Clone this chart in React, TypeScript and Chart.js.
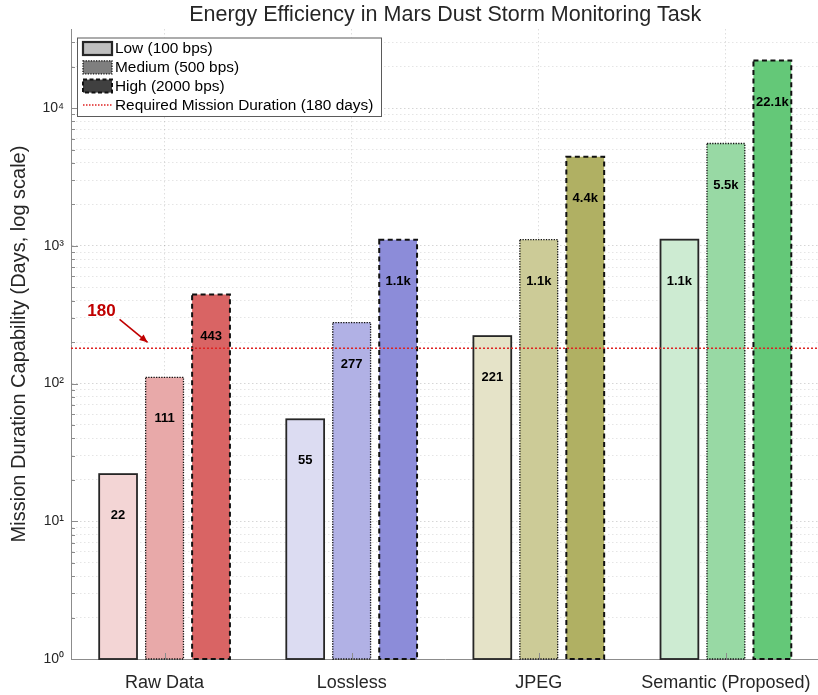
import { useEffect, useRef } from "react";
import { Chart, registerables } from "chart.js";

Chart.register(...registerables);

// ---- data ----
const categories = ["Raw Data", "Lossless", "JPEG", "Semantic (Proposed)"];
const seriesNames = ["Low (100 bps)", "Medium (500 bps)", "High (2000 bps)"];
const lowDays = [22, 55, 221, 1108];
const mediumDays = [111, 277, 1108, 5530];
const highDays = [443, 1108, 4430, 22120];
const requiredDays = 180;
const requiredLabel = "Required Mission Duration (180 days)";
const yMin = 1;
const yMax = 37500;
const decadeLabels = ["10⁰", "10¹", "10²", "10³", "10⁴"];

// ---- styles ----
const FONT = "'Liberation Sans', Arial, Helvetica, sans-serif";
const TEXT = "#262626";
const AXIS = "#8c8c8c";
const lowColors = ["#f3d5d5", "#dcdcf2", "#e5e3c8", "#cdebd2"];
const mediumColors = ["#e8a9a9", "#b1b1e5", "#cccb97", "#98d9a4"];
const highColors = ["#d96464", "#8c8cd9", "#b0b063", "#64c878"];
const outlineStyles = [
  { color: "#262626", width: 1.8, dash: [] as number[] },
  { color: "#111111", width: 1.3, dash: [1.3, 1.3] },
  { color: "#111111", width: 2, dash: [5, 3.5] },
];
const legendSwatches = [
  { fill: "#bfbfbf", ...outlineStyles[0], width: 2.2 },
  { fill: "#7f7f7f", ...outlineStyles[1] },
  { fill: "#404040", ...outlineStyles[2], dash: [4, 2.5] },
];
const THRESH_COLOR = "rgb(222, 34, 34)";
const NOTE_COLOR = "#c00000";

const formatDays = (v: number) =>
  v >= 1000 ? (v / 1000).toFixed(1) + "k" : String(v);

const isDecade = (v: number) => {
  const lg = Math.log10(v);
  return Math.abs(lg - Math.round(lg)) < 1e-9;
};

const overlayPlugin = {
  id: "overlay",
  afterDatasetsDraw(chart: any) {
    const { ctx, chartArea: a, scales } = chart;
    const x = scales.x;
    const y = scales.y;

    // bar outlines and value labels
    chart.data.datasets.forEach((ds: any, di: number) => {
      const meta = chart.getDatasetMeta(di);
      const st = outlineStyles[di];
      meta.data.forEach((bar: any, i: number) => {
        const p = bar.getProps(["x", "y", "base", "width"], true);
        ctx.save();
        ctx.strokeStyle = st.color;
        ctx.lineWidth = st.width;
        ctx.setLineDash(st.dash);
        ctx.strokeRect(p.x - p.width / 2, p.y, p.width, p.base - p.y);
        ctx.restore();

        const v = ds.data[i] as number;
        ctx.save();
        ctx.font = `bold 13px ${FONT}`;
        ctx.fillStyle = "#000";
        ctx.textAlign = "center";
        ctx.textBaseline = "middle";
        ctx.fillText(formatDays(v), p.x, y.getPixelForValue(v / 2));
        ctx.restore();
      });
    });

    // required duration line
    const ty = y.getPixelForValue(requiredDays);
    ctx.save();
    ctx.strokeStyle = THRESH_COLOR;
    ctx.lineWidth = 1.5;
    ctx.setLineDash([2, 2]);
    ctx.beginPath();
    ctx.moveTo(a.left, ty);
    ctx.lineTo(a.right, ty);
    ctx.stroke();
    ctx.restore();

    // "180" callout with arrow
    const cx = x.getPixelForValue(0);
    const tip = { x: cx - 17, y: ty - 6 };
    const tail = { x: cx - 45, y: ty - 29 };
    ctx.save();
    ctx.strokeStyle = NOTE_COLOR;
    ctx.fillStyle = NOTE_COLOR;
    ctx.lineWidth = 1.6;
    ctx.beginPath();
    ctx.moveTo(tail.x, tail.y);
    ctx.lineTo(tip.x, tip.y);
    ctx.stroke();
    const ang = Math.atan2(tip.y - tail.y, tip.x - tail.x);
    const hl = 8;
    const hw = 3.5;
    ctx.beginPath();
    ctx.moveTo(tip.x, tip.y);
    ctx.lineTo(
      tip.x - hl * Math.cos(ang) + hw * Math.sin(ang),
      tip.y - hl * Math.sin(ang) - hw * Math.cos(ang)
    );
    ctx.lineTo(
      tip.x - hl * Math.cos(ang) - hw * Math.sin(ang),
      tip.y - hl * Math.sin(ang) + hw * Math.cos(ang)
    );
    ctx.closePath();
    ctx.fill();
    ctx.font = `bold 17px ${FONT}`;
    ctx.textAlign = "center";
    ctx.textBaseline = "middle";
    ctx.fillText(String(requiredDays), cx - 63, ty - 37);
    ctx.restore();

    // inside tick marks
    ctx.save();
    ctx.strokeStyle = AXIS;
    ctx.lineWidth = 1;
    y.ticks.forEach((t: any) => {
      const py = Math.round(y.getPixelForValue(t.value)) + 0.5;
      const len = isDecade(t.value) ? 7 : 4;
      ctx.beginPath();
      ctx.moveTo(a.left, py);
      ctx.lineTo(a.left + len, py);
      ctx.stroke();
    });
    categories.forEach((_, i) => {
      const px = Math.round(x.getPixelForValue(i)) + 0.5;
      ctx.beginPath();
      ctx.moveTo(px, a.bottom);
      ctx.lineTo(px, a.bottom - 6);
      ctx.stroke();
    });
    ctx.restore();

    // legend
    const bx = a.left + 6;
    const by = a.top + 8.5;
    const bw = 304;
    const bh = 78.5;
    ctx.save();
    ctx.fillStyle = "#ffffff";
    ctx.fillRect(bx, by, bw, bh);
    ctx.strokeStyle = "#5a5a5a";
    ctx.lineWidth = 1;
    ctx.strokeRect(bx + 0.5, by + 0.5, bw, bh);
    const rowY = [by + 11, by + 29.8, by + 48.6, by + 67.4];
    const sx = bx + 6;
    const sw = 29;
    const sh = 13;
    legendSwatches.forEach((s, i) => {
      ctx.fillStyle = s.fill;
      ctx.fillRect(sx, rowY[i] - sh / 2, sw, sh);
      ctx.strokeStyle = s.color;
      ctx.lineWidth = s.width;
      ctx.setLineDash(s.dash);
      ctx.strokeRect(sx, rowY[i] - sh / 2, sw, sh);
    });
    ctx.setLineDash([1.5, 1.5]);
    ctx.strokeStyle = THRESH_COLOR;
    ctx.lineWidth = 1.5;
    ctx.beginPath();
    ctx.moveTo(sx, rowY[3]);
    ctx.lineTo(sx + sw, rowY[3]);
    ctx.stroke();
    ctx.setLineDash([]);
    ctx.fillStyle = "#000";
    ctx.font = `15.4px ${FONT}`;
    ctx.textAlign = "left";
    ctx.textBaseline = "middle";
    [...seriesNames, requiredLabel].forEach((name, i) => {
      ctx.fillText(name, sx + sw + 3, rowY[i] + 0.5);
    });
    ctx.restore();
  },
};

export default function App() {
  const ref = useRef<HTMLCanvasElement | null>(null);

  useEffect(() => {
    if (!ref.current) return;
    const chart = new Chart(ref.current, {
      type: "bar",
      data: {
        labels: categories,
        datasets: [
          { label: seriesNames[0], data: lowDays, backgroundColor: lowColors, borderWidth: 0 },
          { label: seriesNames[1], data: mediumDays, backgroundColor: mediumColors, borderWidth: 0 },
          { label: seriesNames[2], data: highDays, backgroundColor: highColors, borderWidth: 0 },
        ],
      },
      options: {
        responsive: false,
        animation: false,
        devicePixelRatio: 1,
        layout: { padding: 0 },
        datasets: {
          bar: { categoryPercentage: 0.745, barPercentage: 0.814 },
        },
        plugins: {
          legend: { display: false },
          tooltip: { enabled: false },
          title: {
            display: true,
            fullSize: false,
            text: "Energy Efficiency in Mars Dust Storm Monitoring Task",
            color: TEXT,
            font: { family: FONT, size: 21.5, weight: "normal" },
            padding: { top: 2.2, bottom: 1 },
          },
        },
        scales: {
          x: {
            type: "category",
            offset: true,
            grid: {
              offset: false,
              drawTicks: false,
              color: "rgba(0,0,0,0.13)",
              lineWidth: 1,
            },
            border: { display: true, color: AXIS, width: 1, dash: [1.5, 2.5] },
            ticks: {
              color: TEXT,
              font: { family: FONT, size: 18 },
              padding: 13,
              maxRotation: 0,
              autoSkip: false,
            },
            afterFit: (s: any) => {
              s.height = 36;
            },
          },
          y: {
            type: "logarithmic",
            min: yMin,
            max: yMax,
            grid: {
              drawTicks: false,
              color: (c: any) =>
                c.tick && isDecade(c.tick.value) ? "rgba(0,0,0,0.16)" : "rgba(0,0,0,0.1)",
              lineWidth: 1,
            },
            border: { display: true, color: AXIS, width: 1, dash: [1.5, 2.5] },
            ticks: {
              color: TEXT,
              font: { family: FONT, size: 14 },
              padding: 7,
              autoSkip: false,
              callback: (v: any) => {
                const n = Number(v);
                return isDecade(n) ? decadeLabels[Math.round(Math.log10(n))] : "";
              },
            },
            afterBuildTicks: (s: any) => {
              const ticks: { value: number }[] = [];
              for (let k = 0; k < decadeLabels.length; k++) {
                for (let m = 1; m <= 9; m++) {
                  const v = m * Math.pow(10, k);
                  if (v <= yMax) ticks.push({ value: v });
                }
              }
              s.ticks = ticks;
            },
            afterFit: (s: any) => {
              s.width = 71;
            },
            title: {
              display: true,
              text: "Mission Duration Capability (Days, log scale)",
              color: TEXT,
              font: { family: FONT, size: 20 },
              padding: { top: 7, bottom: 0 },
            },
          },
        },
      },
      plugins: [overlayPlugin],
    });
    return () => chart.destroy();
  }, []);

  return (
    <div
      style={{
        position: "absolute",
        left: 0,
        top: 0,
        width: 818,
        height: 695,
        overflow: "hidden",
        background: "#ffffff",
      }}
    >
      <canvas ref={ref} width={824} height={695} style={{ display: "block" }} />
    </div>
  );
}
